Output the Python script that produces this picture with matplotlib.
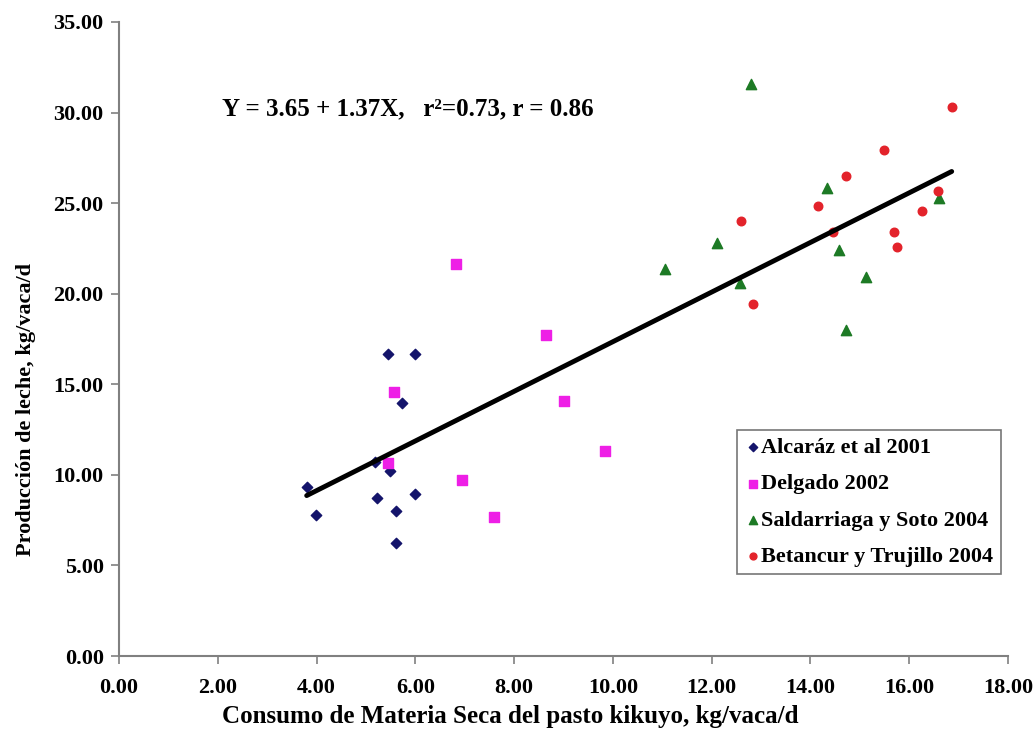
import matplotlib
matplotlib.use("Agg")
import matplotlib.pyplot as plt
import numpy as np

# Data
alcaraz_x = [3.80, 3.99, 5.45, 5.99, 5.72, 5.19, 5.49, 5.22, 5.99, 5.61, 5.61]
alcaraz_y = [9.32, 7.79, 16.68, 16.68, 13.99, 10.71, 10.23, 8.71, 8.95, 8.01, 6.26]

delgado_x = [6.82, 8.65, 5.57, 9.00, 9.84, 5.45, 6.95, 7.60]
delgado_y = [21.65, 17.71, 14.59, 14.08, 11.32, 10.67, 9.72, 7.69]

saldarriaga_x = [12.80, 14.34, 12.11, 11.06, 12.57, 14.58, 15.12, 14.73, 16.60]
saldarriaga_y = [31.58, 25.83, 22.79, 21.35, 20.58, 22.42, 20.94, 18.00, 25.27]

betancur_x = [16.86, 15.49, 14.71, 14.15, 12.59, 14.46, 16.58, 16.26, 15.69, 15.76, 12.84]
betancur_y = [30.33, 27.94, 26.50, 24.86, 24.02, 23.43, 25.68, 24.59, 23.43, 22.57, 19.42]

intercept = 3.65
slope = 1.37

x_ticks = [0, 2, 4, 6, 8, 10, 12, 14, 16, 18]
y_ticks = [0, 5, 10, 15, 20, 25, 30, 35]

plt.rcParams['font.family'] = ["Liberation Serif", 'DejaVu Serif']

W, H = 1034, 740
fig = plt.figure(figsize=(W / 100, H / 100), dpi=100)
L, R, T, B = 119, 1008, 22, 656
ax = fig.add_axes([L / W, (H - B) / H, (R - L) / W, (B - T) / H])

ax.scatter(alcaraz_x, alcaraz_y, marker='D', s=28, color='#14146b', label='Alcaráz et al 2001', zorder=3)
ax.scatter(delgado_x, delgado_y, marker='s', s=45, color='#ee1fe6', label='Delgado 2002', zorder=3)
ax.scatter(saldarriaga_x, saldarriaga_y, marker='^', s=55, color='#1d7a25', label='Saldarriaga y Soto 2004', zorder=3)
ax.scatter(betancur_x, betancur_y, marker='o', s=38, color='#e3232b', label='Betancur y Trujillo 2004', zorder=3)

all_x = np.array(alcaraz_x + delgado_x + saldarriaga_x + betancur_x)
xl = np.array([all_x.min(), all_x.max()])
ax.plot(xl, intercept + slope * xl, color='black', lw=3.5, zorder=4, solid_capstyle='round')

ax.set_xlim(0, 18)
ax.set_ylim(0, 35)
ax.set_xticks(x_ticks)
ax.set_yticks(y_ticks)
ax.set_xticklabels([f"{v:.2f}" for v in x_ticks], fontweight='bold', fontsize=16)
ax.set_yticklabels([f"{v:.2f}" for v in y_ticks], fontweight='bold', fontsize=16)

for s in ['top', 'right']:
    ax.spines[s].set_visible(False)
for s in ['left', 'bottom']:
    ax.spines[s].set_color('#808080')
    ax.spines[s].set_linewidth(1.5)
ax.tick_params(axis='both', direction='out', length=6, width=1.2, color='#808080')
ax.tick_params(axis='x', pad=10)
ax.tick_params(axis='y', pad=5)

ax.set_xlabel('Consumo de Materia Seca del pasto kikuyo, kg/vaca/d', fontweight='bold', fontsize=18)
ax.set_ylabel('Producción de leche, kg/vaca/d', fontweight='bold', fontsize=16)
ax.xaxis.label.set_va('center')
ax.yaxis.label.set_va('center')
ax.xaxis.set_label_coords((510 - L) / (R - L), (B - 717) / (B - T))
ax.yaxis.set_label_coords((26 - L) / (R - L), (B - 410) / (B - T))

fig.text(222 / W, (H - 109) / H, 'Y = 3.65 + 1.37X,   r²=0.73, r = 0.86',
         fontsize=18, fontweight='bold', va='center', ha='left')

leg = ax.legend(loc='upper left', bbox_to_anchor=((737 - L) / (R - L), (B - 430) / (B - T)),
                prop={'weight': 'bold', 'size': 16}, frameon=True, fancybox=False,
                handletextpad=0.05, handlelength=0.7, borderpad=0.35, labelspacing=0.7,
                markerscale=0.8, borderaxespad=0)
leg.get_frame().set_edgecolor('#555555')
leg.get_frame().set_linewidth(1.2)

fig.savefig('out.png', dpi=100)
